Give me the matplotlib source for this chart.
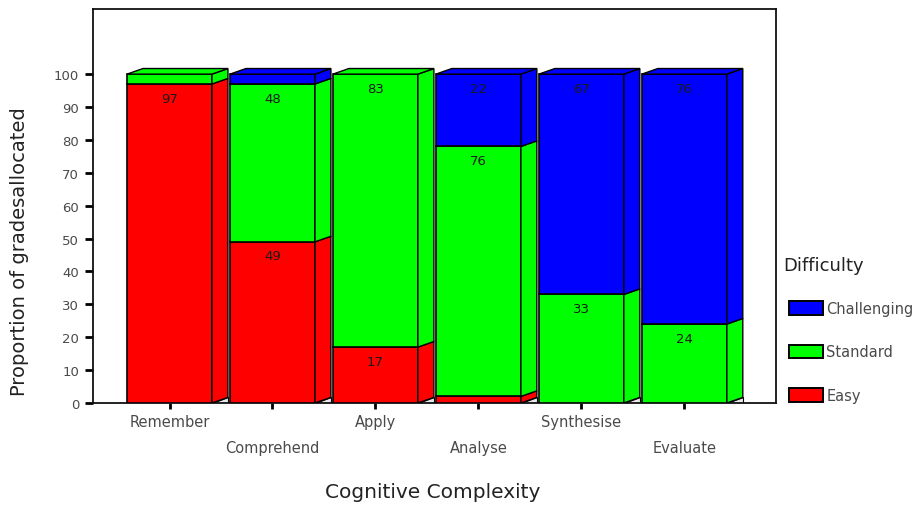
import matplotlib
matplotlib.use("Agg")
import matplotlib.pyplot as plt
from matplotlib.patches import Polygon, Patch
from matplotlib.transforms import ScaledTranslation

categories = ["Remember", "Comprehend", "Apply", "Analyse", "Synthesise", "Evaluate"]
easy = [97, 49, 17, 2, 0, 0]
standard = [3, 48, 83, 76, 33, 24]
challenging = [0, 3, 0, 22, 67, 76]

series = [("Easy", easy, "#ff0000"),
          ("Standard", standard, "#00ff00"),
          ("Challenging", challenging, "#0000ff")]

plt.rcParams["font.family"] = ["DejaVu Sans"]

fig = plt.figure(figsize=(9.22, 5.06), dpi=100)
ax = fig.add_axes([93 / 922, 102 / 506, 683 / 922, 394 / 506])

width = 0.825
dx = 0.155   # depth offset of the fake 3D faces (x units)
dy = 1.7     # depth offset (y units)
text_col = "#4a4a4a"

xs = list(range(len(categories)))
for i, x in enumerate(xs):
    bottom = 0
    top_color = None
    right = x + width / 2
    # floor wedge under the side face
    ax.add_patch(Polygon([(right, 0), (right + dx, 0), (right + dx, dy)],
                         closed=True, facecolor="#e8e8e8", edgecolor="black",
                         linewidth=0.8, zorder=2))
    for name, vals, col in series:
        h = vals[i]
        if h <= 0:
            continue
        ax.bar(x, h, bottom=bottom, width=width, color=col,
               edgecolor="black", linewidth=1.2, zorder=3)
        ax.add_patch(Polygon([(right, bottom), (right + dx, bottom + dy),
                              (right + dx, bottom + h + dy), (right, bottom + h)],
                             closed=True, facecolor=col, edgecolor="black",
                             linewidth=1.0, zorder=3))
        if h >= 10:
            ax.text(x, bottom + h - 4.3, str(h), ha="center", va="center",
                    fontsize=9.5, color="#1a1a1a", zorder=4)
        bottom += h
        top_color = col
    left = x - width / 2
    ax.add_patch(Polygon([(left, bottom), (left + dx, bottom + dy),
                          (right + dx, bottom + dy), (right, bottom)],
                         closed=True, facecolor=top_color, edgecolor="black",
                         linewidth=1.0, zorder=3))

ax.set_xlim(-0.743, 5.89)
ax.set_ylim(0, 119.8)
ax.set_yticks(range(0, 101, 10))
ax.set_xticks(xs)
ax.set_xticklabels(categories)

ax.tick_params(axis="y", direction="out", length=6, width=2, pad=4,
               labelsize=9.5, labelcolor=text_col)
ax.tick_params(axis="x", direction="out", length=4, width=2, pad=4,
               labelsize=10.5, labelcolor=text_col)

# stagger every second category label one row lower
shift = ScaledTranslation(0, -26 / 100, fig.dpi_scale_trans)
for k, lab in enumerate(ax.get_xticklabels()):
    if k % 2 == 1:
        lab.set_transform(lab.get_transform() + shift)

for sp in ax.spines.values():
    sp.set_linewidth(1.3)
    sp.set_color("#111111")

fig.text(20 / 922, 1 - 252 / 506, "Proportion of gradesallocated", rotation=90,
         ha="center", va="center", fontsize=14, color="#222222")
fig.text(433 / 922, 1 - 493 / 506, "Cognitive Complexity",
         ha="center", va="center", fontsize=14.5, color="#222222")

# legend: title as its own text, entries indented below it
fig.text(783 / 922, 1 - 266 / 506, "Difficulty", ha="left", va="center",
         fontsize=13, color="#222222")
handles = [Patch(facecolor=col, edgecolor="black", linewidth=1.4, label=name)
           for name, vals, col in reversed(series)]
leg = fig.legend(handles=handles, loc="upper left",
                 bbox_to_anchor=(789 / 922, 1 - 302 / 506), frameon=False,
                 fontsize=10.5, handlelength=2.3, handleheight=1.05,
                 handletextpad=0.25, labelspacing=1.95,
                 borderaxespad=0, borderpad=0)
for t in leg.get_texts():
    t.set_color(text_col)

fig.savefig("out.png", dpi=100)
